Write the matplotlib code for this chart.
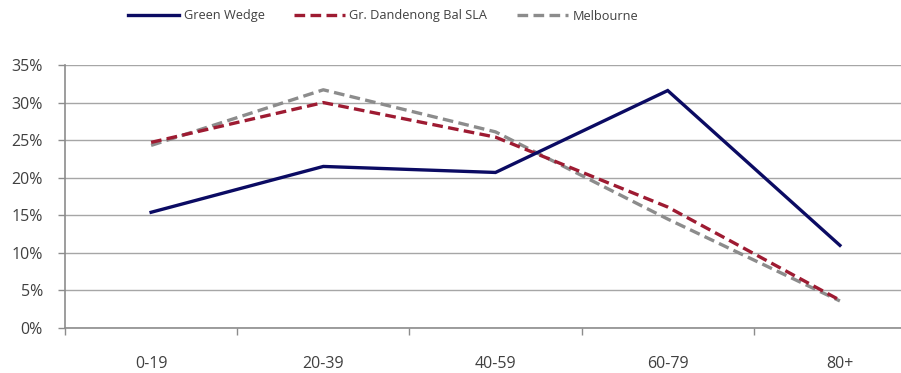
import matplotlib
matplotlib.use("Agg")
import matplotlib.pyplot as plt
from matplotlib.ticker import FuncFormatter, MultipleLocator, FixedLocator

categories = ["0-19", "20-39", "40-59", "60-79", "80+"]
green_wedge = [15.4, 21.5, 20.7, 31.6, 11.0]
dandenong = [24.7, 30.0, 25.4, 16.1, 3.7]
melbourne = [24.3, 31.7, 26.1, 14.5, 3.6]

plt.rcParams["font.family"] = ["Open Sans", "DejaVu Sans"]

W, H = 901, 373
fig = plt.figure(figsize=(W / 100, H / 100), dpi=100)
left, right, top, bottom = 65, 926, 65, 328
ax = fig.add_axes([left / W, (H - bottom) / H, (right - left) / W, (bottom - top) / H])

x = list(range(len(categories)))
lw = 2.4
ax.plot(x, green_wedge, color="#0B0B63", lw=lw, solid_joinstyle="miter",
        label="Green Wedge", zorder=4)
ax.plot(x, dandenong, color="#9E1B32", lw=lw, dashes=(3.2, 1.6),
        label="Gr. Dandenong Bal SLA", zorder=3)
ax.plot(x, melbourne, color="#8C8C8C", lw=lw, dashes=(3.2, 1.6),
        label="Melbourne", zorder=2)

ax.set_xlim(-0.5, len(categories) - 0.5)
ax.set_ylim(0, 35)
ax.yaxis.set_major_locator(MultipleLocator(5))
ax.yaxis.set_major_formatter(FuncFormatter(lambda v, p: f"{v:.0f}%"))
ax.grid(axis="y", color="#A6A6A6", lw=1.0)
ax.set_axisbelow(True)

# category labels centred, tick marks between categories
ax.set_xticks(x)
ax.set_xticklabels(categories)
ax.xaxis.set_minor_locator(FixedLocator([i + 0.5 for i in range(-1, len(categories))]))
ax.tick_params(axis="x", which="major", length=0, pad=20, labelsize=11.5, labelcolor="#404040")
ax.tick_params(axis="x", which="minor", length=5, width=1, color="#8C8C8C", direction="out")
ax.tick_params(axis="y", length=5, width=1, color="#8C8C8C", direction="out",
               labelsize=11.5, labelcolor="#404040", pad=11)

for s in ["top", "right"]:
    ax.spines[s].set_visible(False)
for s in ["left", "bottom"]:
    ax.spines[s].set_color("#8C8C8C")
    ax.spines[s].set_linewidth(1.2)

fig.legend(loc="center", bbox_to_anchor=(383 / W, 1 - 16 / H), ncol=3, frameon=False,
           fontsize=9.2, handlelength=4.0, columnspacing=2.3, handletextpad=0.35,
           labelcolor="#404040")

fig.savefig("out.png", dpi=100)
